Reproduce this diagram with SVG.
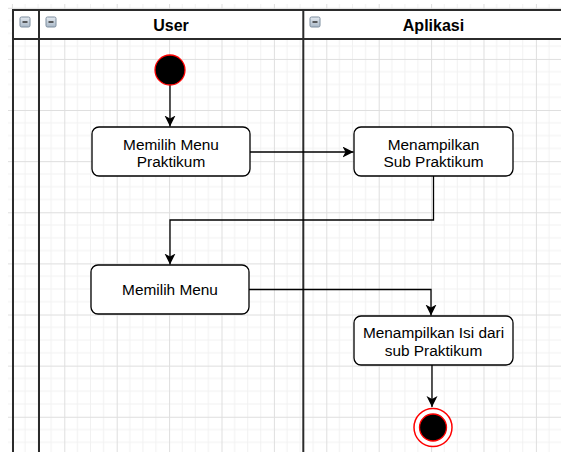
<svg xmlns="http://www.w3.org/2000/svg" width="561" height="452" viewBox="0 0 561 452">
  <defs>
    <style>
      .node rect { fill: #ffffff; stroke: #000000; stroke-width: 1.3; }
      .label { font-family: "Liberation Sans", Arial, sans-serif; font-size: 15.4px; fill: #000000; text-anchor: middle; }
      .title { font-family: "Liberation Sans", Arial, sans-serif; font-size: 16px; font-weight: bold; fill: #000000; text-anchor: middle; }
      .edge { fill: none; stroke: #000000; stroke-width: 1.3; }
      .pool { fill: none; stroke: #2b2b2b; stroke-width: 2; }
      .minor { stroke: #f1f1f1; stroke-width: 1; }
      .major { stroke: #dedede; stroke-width: 1; }
    </style>
    <pattern id="grid" patternUnits="userSpaceOnUse" x="11.9" y="7.8" width="52.4" height="51.12">
      <line class="minor" x1="13.1" y1="0" x2="13.1" y2="51.12"/>
      <line class="minor" x1="26.2" y1="0" x2="26.2" y2="51.12"/>
      <line class="minor" x1="39.3" y1="0" x2="39.3" y2="51.12"/>
      <line class="minor" x1="0" y1="12.78" x2="52.4" y2="12.78"/>
      <line class="minor" x1="0" y1="25.56" x2="52.4" y2="25.56"/>
      <line class="minor" x1="0" y1="38.34" x2="52.4" y2="38.34"/>
      <line class="major" x1="0.5" y1="0" x2="0.5" y2="51.12"/>
      <line class="major" x1="0" y1="0.5" x2="52.4" y2="0.5"/>
    </pattern>
    <linearGradient id="btn" x1="0" y1="0" x2="0" y2="1">
      <stop offset="0" stop-color="#e4eaf1"/>
      <stop offset="1" stop-color="#a9b8c7"/>
    </linearGradient>
    <marker id="arrow" markerUnits="userSpaceOnUse" markerWidth="12" markerHeight="12" refX="11" refY="5.5" orient="auto">
      <path d="M0,0 L11,5.5 L0,11 L3,5.5 Z" fill="#000000"/>
    </marker>
    <g id="minus">
      <rect x="0" y="0" width="10" height="10" rx="1.5" fill="url(#btn)" stroke="#7d8d9e" stroke-width="1"/>
      <line x1="2.5" y1="5" x2="7.5" y2="5" stroke="#3a3a3a" stroke-width="1.6"/>
    </g>
  </defs>

  <!-- canvas grid -->
  <rect x="0" y="0" width="561" height="452" fill="#ffffff"/>
  <rect x="8" y="4" width="553" height="448" fill="url(#grid)"/>

  <!-- swimlane pool -->
  <g id="pool">
    <rect x="13" y="10" width="560" height="29" fill="#ffffff"/>
    <line class="pool" x1="13" y1="10" x2="561" y2="10"/>
    <line class="pool" x1="13" y1="39" x2="561" y2="39"/>
    <line class="pool" x1="13" y1="9" x2="13" y2="452"/>
    <line class="pool" x1="39" y1="10" x2="39" y2="452"/>
    <line class="pool" x1="303.3" y1="10" x2="303.3" y2="452"/>
    <use href="#minus" x="20" y="17"/>
  </g>
  <g id="lane-user">
    <use href="#minus" x="46" y="17"/>
    <text class="title" x="171" y="31">User</text>
  </g>
  <g id="lane-aplikasi">
    <use href="#minus" x="310" y="17"/>
    <text class="title" x="433.5" y="31">Aplikasi</text>
  </g>

  <!-- connectors -->
  <g id="edges">
    <path class="edge" d="M170,85 L170,126.5" marker-end="url(#arrow)"/>
    <path class="edge" d="M250,152 L353.5,152" marker-end="url(#arrow)"/>
    <path class="edge" d="M433.5,176 L433.5,220 L170,220 L170,264.5" marker-end="url(#arrow)"/>
    <path class="edge" d="M247,289.5 L431,289.5 L431,315.5" marker-end="url(#arrow)"/>
    <path class="edge" d="M432,365 L432,407" marker-end="url(#arrow)"/>
  </g>

  <!-- nodes -->
  <g id="start">
    <circle cx="170" cy="70" r="15" fill="#000000" stroke="#ff0000" stroke-width="1.3"/>
  </g>
  <g id="memilih-menu-praktikum" class="node">
    <rect x="92" y="127" width="158" height="49" rx="7"/>
    <text class="label" x="171" y="149.5">Memilih Menu</text>
    <text class="label" x="171" y="167">Praktikum</text>
  </g>
  <g id="menampilkan-sub-praktikum" class="node">
    <rect x="354" y="127" width="159" height="49" rx="7"/>
    <text class="label" x="433.5" y="149.5">Menampilkan</text>
    <text class="label" x="433.5" y="167">Sub Praktikum</text>
  </g>
  <g id="memilih-menu" class="node">
    <rect x="91" y="265" width="158" height="49" rx="7"/>
    <text class="label" x="170" y="295">Memilih Menu</text>
  </g>
  <g id="menampilkan-isi" class="node">
    <rect x="354" y="316" width="159" height="49" rx="7"/>
    <text class="label" x="433.5" y="338">Menampilkan Isi dari</text>
    <text class="label" x="433.5" y="355.5">sub Praktikum</text>
  </g>
  <g id="end">
    <circle cx="433" cy="427.5" r="19" fill="#ffffff" stroke="#ff0000" stroke-width="1.5"/>
    <circle cx="433" cy="427.5" r="13.5" fill="#000000" stroke="#ff0000" stroke-width="1.3"/>
  </g>
</svg>
